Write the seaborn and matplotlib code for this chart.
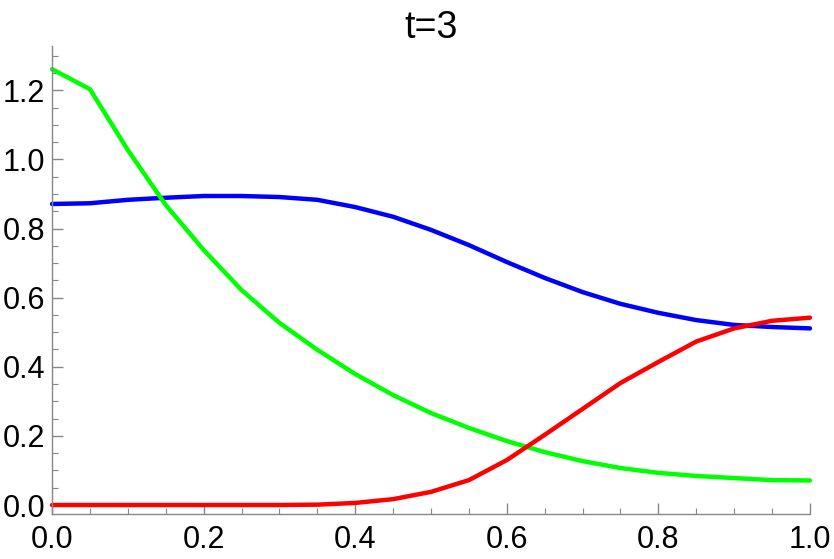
import numpy as np
import pandas as pd
import matplotlib
matplotlib.use("Agg")
import matplotlib.pyplot as plt
import seaborn as sns
from matplotlib.ticker import MultipleLocator

x_vals = [0.0, 0.05, 0.1, 0.15, 0.2, 0.25, 0.3, 0.35, 0.4, 0.45, 0.5,
          0.55, 0.6, 0.65, 0.7, 0.75, 0.8, 0.85, 0.9, 0.95, 1.0]
green_vals = [1.261, 1.203, 1.027, 0.868, 0.738, 0.622, 0.527, 0.449, 0.379, 0.318, 0.266,
              0.223, 0.185, 0.153, 0.127, 0.107, 0.093, 0.084, 0.078, 0.072, 0.071]
blue_vals = [0.871, 0.873, 0.883, 0.889, 0.894, 0.894, 0.891, 0.883, 0.862, 0.834, 0.796,
             0.752, 0.703, 0.657, 0.616, 0.582, 0.556, 0.535, 0.521, 0.515, 0.511]
red_vals = [0.0, 0.0, 0.0, 0.0, 0.0, 0.0, 0.0, 0.001, 0.006, 0.017, 0.038,
            0.072, 0.130, 0.203, 0.278, 0.353, 0.414, 0.473, 0.511, 0.533, 0.542]

df = pd.DataFrame({
    "x": x_vals * 3,
    "y": blue_vals + green_vals + red_vals,
    "series": ["blue"] * 21 + ["green"] * 21 + ["red"] * 21,
})

sns.set_style("ticks")
plt.rcParams['font.family'] = ['Liberation Sans', 'DejaVu Sans']

fig = plt.figure(figsize=(8.34, 5.59), dpi=100)
ax = fig.add_axes([0.0624, 0.0805, 0.9088, 0.8372])

sns.lineplot(data=df, x="x", y="y", hue="series",
             palette={"blue": "#0000FF", "green": "#00FF00", "red": "#FF0000"},
             linewidth=3.2, legend=False, ax=ax, clip_on=False)

ax.set_xlim(0, 1.0)
ax.set_ylim(-0.026, 1.328)
ax.xaxis.set_major_locator(MultipleLocator(0.2))
ax.xaxis.set_minor_locator(MultipleLocator(0.05))
ax.yaxis.set_major_locator(MultipleLocator(0.2))
ax.yaxis.set_minor_locator(MultipleLocator(0.05))
ax.xaxis.set_major_formatter(plt.FormatStrFormatter('%.1f'))
ax.yaxis.set_major_formatter(plt.FormatStrFormatter('%.1f'))

ax.tick_params(which='major', direction='in', length=8, width=1, color='#888888',
               labelsize=22, labelcolor='black')
ax.tick_params(axis='x', which='major', pad=8)
ax.tick_params(axis='y', which='major', pad=5)
ax.tick_params(which='minor', direction='in', length=4.5, width=0.8, color='#888888')

for side in ['top', 'right']:
    ax.spines[side].set_visible(False)
for side in ['left', 'bottom']:
    ax.spines[side].set_color('#888888')
    ax.spines[side].set_linewidth(1)

ax.set_xlabel('')
ax.set_ylabel('')
ax.set_title('t=3', fontsize=27, pad=6, color='black')

fig.savefig('out.png', dpi=100)
